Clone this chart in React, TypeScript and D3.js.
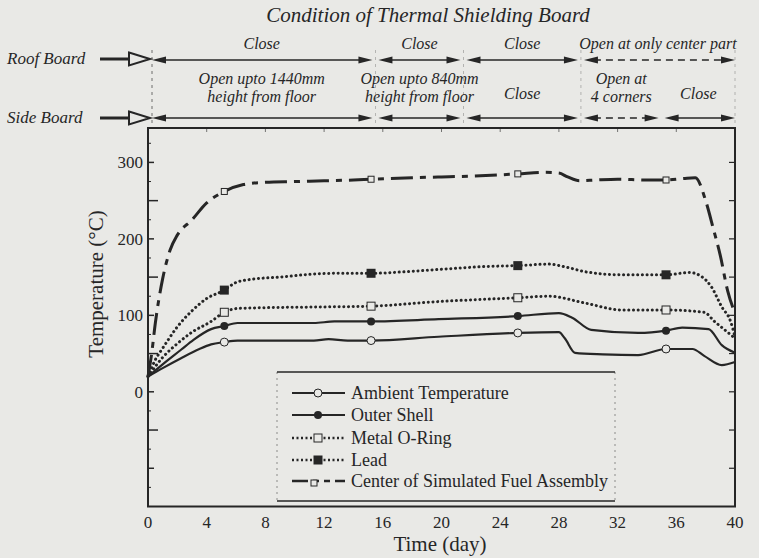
import React from "react";
import * as d3 from "d3";

// ---- data ----
const xTicks = [0, 4, 8, 12, 16, 20, 24, 28, 32, 36, 40];
const yLabels = [0, 100, 200, 300];
const markerDays = [5.2, 15.2, 25.2, 35.3];

const ambientDays = [0, 1, 2.25, 3.5, 4.3, 5.2, 6.1, 9, 11.3, 12.3, 13.6, 15.2, 19.8, 25.2, 28, 28.4, 29.1, 31, 33.4, 35.3, 37.1, 37.9, 39.1, 40];
const ambientTemp = [20, 31, 44, 56, 62, 65, 67, 67, 67, 69, 67, 67, 72, 77, 78, 70, 51, 49, 48, 56, 56, 47, 35, 39];

const shellDays = [0, 1, 2.25, 3.1, 4.3, 5.2, 6.1, 9, 11.3, 12.7, 15.2, 19.8, 25.2, 28, 28.9, 30.2, 33.4, 35.3, 36.4, 38.2, 39.1, 40];
const shellTemp = [20, 36, 55, 68, 82, 86, 90, 90, 90, 92, 92, 95, 99, 103, 97, 81, 77, 80, 84, 82, 61, 51];

const oringDays = [0, 1, 2, 3, 4.3, 5.2, 6.1, 8, 12, 15.2, 19.8, 25.2, 27.3, 29.8, 32.3, 35.3, 37.9, 38.6, 39.3, 40];
const oringTemp = [20, 45, 63, 78, 92, 104, 109, 110, 111, 112, 118, 123, 125, 116, 107, 107, 104, 92, 81, 70];

const leadDays = [0, 0.5, 1, 2, 3, 4, 5.2, 6, 7, 9, 11.3, 13, 15.2, 17.5, 19.8, 23.2, 25.2, 27.3, 28.5, 29.8, 32.3, 35.3, 36.9, 37.7, 38.4, 39.1, 39.7, 40];
const leadTemp = [20, 42, 57, 85, 106, 122, 133, 143, 147, 150, 154, 155, 155, 157, 160, 164, 165, 167, 163, 157, 153, 153, 156, 151, 137, 111, 92, 72];

const fuelDays = [0, 0.25, 0.5, 1, 1.5, 2, 3, 4, 5.2, 6.5, 8, 10, 12, 14, 15.2, 18, 20, 22, 25.2, 27, 28, 28.6, 29.4, 30.5, 32, 34, 35.3, 36.5, 37.3, 38, 38.5, 39, 39.5, 40];
const fuelTemp = [20, 50, 90, 148, 185, 205, 225, 247, 262, 271, 274, 275, 276, 277, 278, 280, 281, 282, 285, 287, 286, 281, 276, 277, 278, 277, 277, 279, 280, 250, 215, 178, 132, 103];

const roofBounds = [0, 15.5, 21.5, 29.5, 40];
const roofLabels = [["Close"], ["Close"], ["Close"], ["Open at only center part"]];
const roofDashed = [false, false, false, true];

const sideBounds = [0, 15.5, 21.5, 29.5, 35, 40];
const sideLabels = [
  ["Open upto 1440mm", "height from floor"],
  ["Open upto 840mm", "height from floor"],
  ["Close"],
  ["Open at", "4 corners"],
  ["Close"],
];
const sideDashed = [false, false, false, true, false];

const legendNames = [
  "Ambient Temperature",
  "Outer Shell",
  "Metal O-Ring",
  "Lead",
  "Center of Simulated Fuel Assembly",
];

const INK = "#262626";
const BG = "#e9e9e6";
const FONT = "'Liberation Serif', 'Times New Roman', serif";

const W = 759;
const H = 558;

const App = () => {
  const x = d3.scaleLinear().domain([0, 40]).range([148, 735]);
  const y = d3.scaleLinear().domain([-150, 345]).range([506.5, 128]);

  const mk = (days: number[], temps: number[]) =>
    d3
      .line<number>()
      .x((_, i) => x(days[i]))
      .y((d) => y(d))
      .curve(d3.curveMonotoneX)(temps) || "";

  const dotted = { strokeDasharray: "0.1 4.6", strokeLinecap: "round" as const, strokeWidth: 3 };
  const series = [
    { days: ambientDays, temps: ambientTemp, style: { strokeWidth: 2.2 }, marker: "openCircle" },
    { days: shellDays, temps: shellTemp, style: { strokeWidth: 2.2 }, marker: "circle" },
    { days: oringDays, temps: oringTemp, style: dotted, marker: "openSquare" },
    { days: leadDays, temps: leadTemp, style: dotted, marker: "square" },
    { days: fuelDays, temps: fuelTemp, style: { strokeWidth: 3, strokeDasharray: "22 7 6 7" }, marker: "bracket" },
  ];

  const drawMarker = (type: string, cx: number, cy: number, key: string) => {
    if (type === "openCircle")
      return <circle key={key} cx={cx} cy={cy} r={4} fill={BG} stroke={INK} strokeWidth={1} />;
    if (type === "circle") return <circle key={key} cx={cx} cy={cy} r={4} fill={INK} />;
    if (type === "openSquare")
      return <rect key={key} x={cx - 4} y={cy - 4} width={8} height={8} fill={BG} stroke={INK} strokeWidth={1} />;
    if (type === "square") return <rect key={key} x={cx - 4.5} y={cy - 4.5} width={9} height={9} fill={INK} />;
    return <rect key={key} x={cx - 3} y={cy - 3} width={6} height={6} fill={BG} stroke={INK} strokeWidth={1} />;
  };

  // left axis ticks every 25
  const leftTicks = d3.range(-125, 326, 25);
  const rightTicks = d3.range(-100, 326, 50);
  const topTicks = d3.range(4, 40, 4);

  const arrowRow = (bounds: number[], labels: string[][], dashed: boolean[], rowY: number, above: boolean) =>
    bounds.slice(0, -1).map((b, i) => {
      const x0 = x(b) + (i === 0 ? 4 : 3);
      const x1 = x(bounds[i + 1]) - (i === bounds.length - 2 ? 0 : 3);
      const cx = x((b + bounds[i + 1]) / 2);
      const lines = labels[i];
      return (
        <g key={`seg-${rowY}-${i}`}>
          <line x1={x0 + 10} x2={x1 - 10} y1={rowY} y2={rowY} stroke={INK} strokeWidth={1.3}
            strokeDasharray={dashed[i] ? "7 5" : undefined} />
          <path d={`M${x0},${rowY} L${x0 + 14},${rowY - 3.5} L${x0 + 14},${rowY + 3.5} Z`} fill={INK} />
          <path d={`M${x1},${rowY} L${x1 - 14},${rowY - 3.5} L${x1 - 14},${rowY + 3.5} Z`} fill={INK} />
          {lines.map((t, j) => {
            const by = above
              ? rowY - 11
              : lines.length === 1
              ? rowY - 19
              : rowY - 34 + j * 18;
            return (
              <text key={j} x={cx} y={by} textAnchor="middle" fontStyle="italic" fontSize={16} fill={INK}>
                {t}
              </text>
            );
          })}
        </g>
      );
    });

  const boardArrow = (label: string, rowY: number) => (
    <g>
      <text x={7} y={rowY + 5} fontStyle="italic" fontSize={17} fill={INK}>{label}</text>
      <line x1={100} x2={131} y1={rowY} y2={rowY} stroke={INK} strokeWidth={3} />
      <path d={`M129,${rowY - 6.5} L150,${rowY} L129,${rowY + 6.5} Z`} fill={BG} stroke={INK} strokeWidth={2} />
    </g>
  );

  const legendRows = [393, 415, 438, 460, 481];
  const legendStyles = [
    { strokeWidth: 2.2 },
    { strokeWidth: 2.2 },
    { strokeWidth: 2.5, strokeDasharray: "2 2.5" },
    { strokeWidth: 2.5, strokeDasharray: "2 2.5" },
    { strokeWidth: 2.5, strokeDasharray: "16 5 6 5 6 5" },
  ];

  return (
    <svg width={W} height={H} style={{ position: "absolute", left: 0, top: 0, fontFamily: FONT }}>
      <rect width={W} height={H} fill={BG} />

      {/* header: board conditions */}
      <text x={428} y={22} textAnchor="middle" fontStyle="italic" fontSize={21} fill={INK}>
        Condition of Thermal Shielding Board
      </text>
      {boardArrow("Roof Board", 59)}
      {boardArrow("Side Board", 118)}
      {arrowRow(roofBounds, roofLabels, roofDashed, 60, true)}
      {arrowRow(sideBounds, sideLabels, sideDashed, 118, false)}
      {roofBounds.map((b, i) => (
        <line key={`v${i}`} x1={x(b) + (i === 0 ? 4 : 0)} x2={x(b) + (i === 0 ? 4 : 0)} y1={50} y2={128}
          stroke={INK} strokeWidth={0.8} strokeDasharray="3 4" opacity={i === 0 ? 0.8 : 0.35} />
      ))}

      {/* frame */}
      <rect x={148} y={128} width={587} height={378.5} fill="none" stroke={INK} strokeWidth={2} />
      {leftTicks.map((v) => (
        <line key={`lt${v}`} x1={148} x2={148 + (v % 100 === 0 ? 6 : v % 50 === 0 ? 10 : 3)} y1={y(v)} y2={y(v)}
          stroke={INK} strokeWidth={v % 50 === 0 ? 1.5 : 1} />
      ))}
      {rightTicks.map((v) => (
        <line key={`rt${v}`} x1={735} x2={729} y1={y(v)} y2={y(v)} stroke={INK} strokeWidth={1.2} />
      ))}
      {topTicks.map((d) => (
        <line key={`tt${d}`} x1={x(d)} x2={x(d)} y1={128} y2={132} stroke={INK} strokeWidth={1} opacity={0.6} />
      ))}

      {/* axis labels */}
      {yLabels.map((v) => (
        <text key={`yl${v}`} x={143} y={y(v) + 6} textAnchor="end" fontSize={17} fill={INK}>{v}</text>
      ))}
      {xTicks.map((d) => (
        <text key={`xl${d}`} x={x(d)} y={528} textAnchor="middle" fontSize={17} fill={INK}>{d}</text>
      ))}
      <text x={440} y={551} textAnchor="middle" fontSize={21} fill={INK}>Time (day)</text>
      <text transform="translate(103,284) rotate(-90)" textAnchor="middle" fontSize={21} fill={INK}>
        Temperature (°C)
      </text>

      {/* series */}
      {series.map((s, i) => (
        <g key={`s${i}`}>
          <path d={mk(s.days, s.temps)} fill="none" stroke={INK} {...s.style} />
          {markerDays.map((md, k) => {
            const idx = s.days.indexOf(md);
            return idx >= 0 ? drawMarker(s.marker, x(md), y(s.temps[idx]), `m${i}-${k}`) : null;
          })}
        </g>
      ))}

      {/* legend */}
      <line x1={277} x2={615} y1={372} y2={372} stroke={INK} strokeWidth={1.5} />
      <line x1={277} x2={615} y1={501} y2={501} stroke={INK} strokeWidth={1.5} />
      <line x1={277} x2={277} y1={372} y2={501} stroke={INK} strokeWidth={0.8} strokeDasharray="2 4" opacity={0.6} />
      <line x1={615} x2={615} y1={372} y2={501} stroke={INK} strokeWidth={0.8} strokeDasharray="2 4" opacity={0.6} />
      {legendNames.map((name, i) => (
        <g key={`lg${i}`}>
          <line x1={292} x2={345} y1={legendRows[i]} y2={legendRows[i]} stroke={INK} {...legendStyles[i]} />
          {drawMarker(series[i].marker, i === 4 ? 314 : 318, legendRows[i] + (i === 4 ? 2 : 0), `lm${i}`)}
          <text x={351} y={legendRows[i] + 6} fontSize={18} fill={INK}>{name}</text>
        </g>
      ))}
    </svg>
  );
};

export default App;
